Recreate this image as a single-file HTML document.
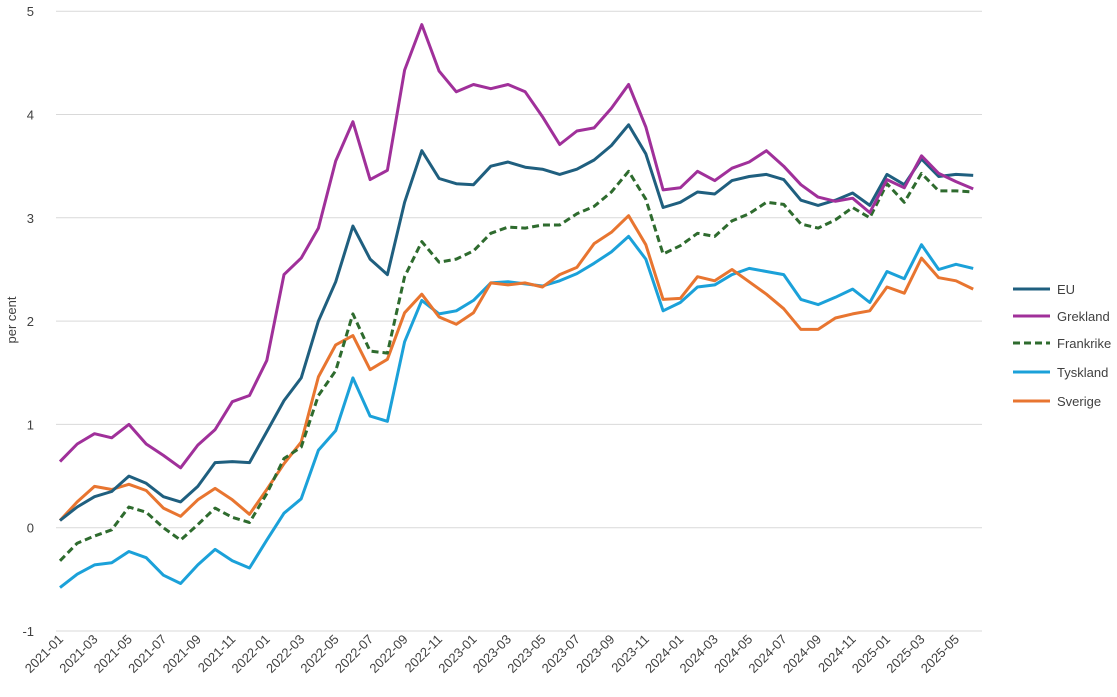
<!DOCTYPE html>
<html><head><meta charset="utf-8"><style>
body{margin:0;background:#fff;}
svg text{font-family:"Liberation Sans",sans-serif;fill:#404040;}
</style></head><body>
<svg id="c" width="1117" height="692" xmlns="http://www.w3.org/2000/svg"></svg>
<script>
const s=document.getElementById('c');
const NS='http://www.w3.org/2000/svg';
function el(t,a,txt){const e=document.createElementNS(NS,t);for(const k in a)e.setAttribute(k,a[k]);if(txt!==undefined)e.textContent=txt;s.appendChild(e);return e;}
const Y=v=>527.7-v*103.3, X=i=>60+17.23*i;
for(let v=-1;v<=5;v++){el('line',{x1:56,x2:982,y1:Y(v),y2:Y(v),stroke:'#d9d9d9','stroke-width':1});
el('text',{x:34,y:Y(v)+5,'text-anchor':'end','font-size':13},String(v));}
el('text',{x:16,y:320,'font-size':13,'text-anchor':'middle',transform:'rotate(-90 16 320)'},'per cent');
for(let i=0;i<54;i+=2){const y=2021+Math.floor(i/12),m=i%12+1;const x=X(i)+4,yy=640;
el('text',{x:x,y:yy,'font-size':13,'text-anchor':'end',transform:`rotate(-45 ${x} ${yy})`},y+'-'+String(m).padStart(2,'0'));}
const D={
EU:[0.07,0.2,0.3,0.35,0.5,0.43,0.3,0.25,0.4,0.63,0.64,0.63,0.93,1.23,1.45,2.0,2.38,2.92,2.6,2.45,3.15,3.65,3.38,3.33,3.32,3.5,3.54,3.49,3.47,3.42,3.47,3.56,3.7,3.9,3.62,3.1,3.15,3.25,3.23,3.36,3.4,3.42,3.37,3.17,3.12,3.17,3.24,3.12,3.42,3.32,3.57,3.4,3.42,3.41],
GR:[0.64,0.81,0.91,0.87,1.0,0.81,0.7,0.58,0.8,0.95,1.22,1.28,1.62,2.45,2.61,2.9,3.55,3.93,3.37,3.46,4.43,4.87,4.42,4.22,4.29,4.25,4.29,4.22,3.98,3.71,3.84,3.87,4.06,4.29,3.88,3.27,3.29,3.45,3.36,3.48,3.54,3.65,3.5,3.32,3.2,3.16,3.19,3.05,3.37,3.29,3.6,3.43,3.35,3.28],
FR:[-0.32,-0.15,-0.08,-0.02,0.2,0.15,0.0,-0.12,0.03,0.19,0.1,0.05,0.33,0.67,0.78,1.28,1.52,2.07,1.71,1.69,2.43,2.77,2.57,2.6,2.68,2.85,2.91,2.9,2.93,2.93,3.04,3.11,3.25,3.45,3.18,2.65,2.73,2.85,2.82,2.97,3.04,3.15,3.13,2.94,2.9,2.98,3.1,3.0,3.33,3.15,3.43,3.26,3.26,3.25],
DE:[-0.58,-0.45,-0.36,-0.34,-0.23,-0.29,-0.46,-0.54,-0.36,-0.21,-0.32,-0.39,-0.12,0.14,0.28,0.75,0.94,1.45,1.08,1.03,1.8,2.2,2.07,2.1,2.2,2.37,2.38,2.36,2.34,2.39,2.46,2.56,2.67,2.82,2.6,2.1,2.18,2.33,2.35,2.45,2.51,2.48,2.45,2.21,2.16,2.23,2.31,2.18,2.48,2.41,2.74,2.5,2.55,2.51],
SE:[0.07,0.25,0.4,0.37,0.42,0.36,0.19,0.11,0.27,0.38,0.27,0.13,0.37,0.62,0.83,1.46,1.77,1.86,1.53,1.63,2.08,2.26,2.04,1.97,2.08,2.37,2.35,2.37,2.33,2.45,2.52,2.75,2.86,3.02,2.74,2.21,2.22,2.43,2.39,2.5,2.38,2.26,2.12,1.92,1.92,2.03,2.07,2.1,2.33,2.27,2.61,2.42,2.39,2.31]};
const S=[['EU','#1f5f7f','','EU'],['GR','#a0309a','','Grekland'],['FR','#2e6b2e','7,4','Frankrike'],['DE','#1ba1d9','','Tyskland'],['SE','#e87530','','Sverige']];
const order=['DE','SE','FR','EU','GR'];
order.forEach(k=>{const c=S.find(q=>q[0]==k);
el('polyline',{points:D[k].map((v,i)=>X(i).toFixed(1)+','+Y(v).toFixed(1)).join(' '),fill:'none',stroke:c[1],'stroke-width':3,'stroke-dasharray':c[2],'stroke-linejoin':'round'});});
const ly=[289,316,343,372,401];
S.forEach((c,j)=>{el('line',{x1:1013,x2:1050,y1:ly[j],y2:ly[j],stroke:c[1],'stroke-width':3,'stroke-dasharray':c[2]});
el('text',{x:1057,y:ly[j]+5,'font-size':13},c[3]);});
</script>
</body></html>
